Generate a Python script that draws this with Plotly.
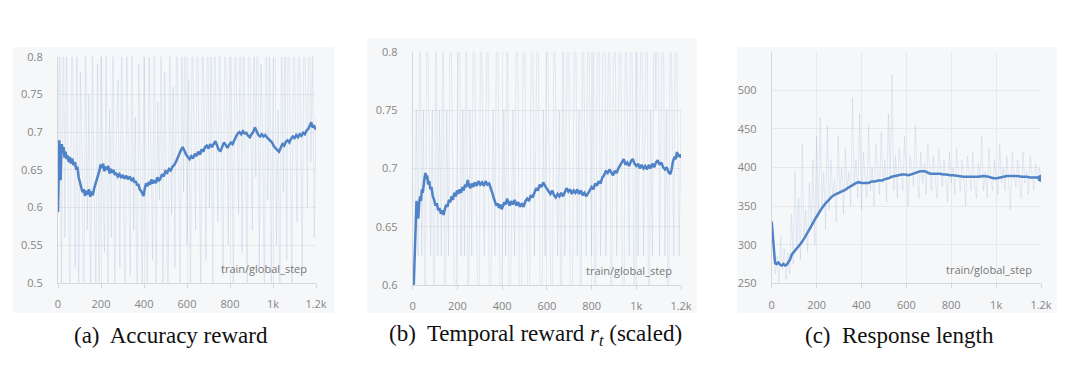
import plotly.graph_objects as go

W, H = 1080, 390

# ---------------- data ----------------
raw_steps = list(range(0, 1201, 8))

acc_raw = [0.59, 0.86, 0.47, 0.91, 0.56, 0.82, 0.63, 0.44, 0.88, 0.71,
           0.52, 0.84, 0.46, 0.78, 0.67, 0.40, 0.85, 0.57, 0.75, 0.45,
           0.83, 0.61, 0.50, 0.79, 0.43, 0.87, 0.64, 0.54, 0.81, 0.48,
           0.73, 0.56, 0.88, 0.45, 0.70, 0.77, 0.52, 0.84, 0.60, 0.44,
           0.81, 0.66, 0.51, 0.86, 0.57, 0.72, 0.42, 0.79, 0.63, 0.49,
           0.84, 0.58, 0.47, 0.80, 0.68, 0.53, 0.89, 0.46, 0.74, 0.61,
           0.85, 0.50, 0.78, 0.64, 0.43, 0.90, 0.59, 0.76, 0.52, 0.87,
           0.69, 0.48, 0.83, 0.62, 0.91, 0.55, 0.77, 0.46, 0.86, 0.71,
           0.57, 0.88, 0.65, 0.49, 0.82, 0.74, 0.53, 0.92, 0.60, 0.80,
           0.47, 0.86, 0.70, 0.58, 0.89, 0.63, 0.51, 0.84, 0.76, 0.55,
           0.93, 0.66, 0.48, 0.87, 0.72, 0.59, 0.90, 0.54, 0.81, 0.68,
           0.50, 0.91, 0.75, 0.57, 0.85, 0.64, 0.94, 0.52, 0.79, 0.70,
           0.46, 0.88, 0.61, 0.83, 0.49, 0.77, 0.90, 0.55, 0.73, 0.44,
           0.86, 0.62, 0.80, 0.53, 0.92, 0.67, 0.48, 0.87, 0.74, 0.58,
           0.91, 0.69, 0.52, 0.85, 0.77, 0.60, 0.93, 0.66, 0.81, 0.56,
           0.72]

tmp_raw = [0.5, 0.625, 0.75, 0.625, 0.875, 0.625, 0.75, 0.5, 0.875, 0.75,
           0.625, 0.75, 0.5, 0.875, 0.625, 0.75, 0.625, 0.875, 0.5, 0.75,
           0.625, 0.875, 0.75, 0.625, 0.5, 0.75, 0.875, 0.625, 0.75, 0.625,
           0.875, 0.5, 0.75, 0.625, 0.875, 0.75, 0.625, 0.5, 0.875, 0.75,
           0.625, 0.75, 0.875, 0.5, 0.625, 0.75, 0.625, 0.875, 0.75, 0.5,
           0.625, 0.75, 0.625, 0.875, 0.5, 0.625, 0.75, 0.625, 0.875, 0.75,
           0.5, 0.625, 0.875, 0.75, 0.625, 0.5, 0.75, 0.875, 0.625, 0.75,
           0.875, 0.625, 0.5, 0.75, 0.625, 0.875, 0.75, 0.625, 0.5, 0.875,
           0.75, 0.625, 0.75, 0.5, 0.875, 0.625, 0.75, 0.875, 0.625, 0.5,
           0.75, 0.875, 0.625, 0.75, 0.5, 0.875, 0.75, 0.625, 0.875, 0.75,
           0.625, 0.875, 0.5, 0.75, 0.875, 0.625, 0.75, 1.0, 0.625, 0.75,
           0.875, 0.5, 0.75, 0.875, 0.625, 0.75, 0.875, 0.625, 0.5, 0.875,
           0.75, 0.625, 0.875, 0.75, 0.5, 0.875, 0.625, 0.75, 0.875, 0.625,
           0.75, 0.875, 0.5, 0.75, 0.625, 0.875, 0.75, 1.0, 0.625, 0.75,
           0.875, 0.625, 0.75, 0.5, 0.875, 0.75, 0.625, 0.875, 0.75, 0.625,
           0.75]

len_raw = [330, 300, 262, 285, 250, 310, 268, 295, 255, 290,
           262, 340, 275, 395, 300, 360, 280, 430, 310, 345,
           290, 380, 320, 410, 300, 440, 335, 465, 350, 395,
           320, 455, 345, 410, 360, 385, 330, 440, 365, 400,
           340, 425, 370, 395, 350, 490, 375, 410, 360, 470,
           345, 420, 385, 360, 455, 370, 400, 350, 430, 390,
           365, 445, 380, 410, 355, 470, 385, 520, 370, 415,
           360, 425, 395, 370, 440, 385, 350, 415, 400, 375,
           455, 390, 360, 420, 380, 405, 365, 430, 395, 370,
           415, 385, 360, 425, 395, 375, 410, 385, 355, 420,
           380, 400, 365, 425, 390, 370, 410, 385, 350, 415,
           395, 370, 420, 380, 360, 405, 385, 440, 370, 395,
           360, 425, 385, 370, 410, 390, 365, 430, 380, 400,
           370, 415, 385, 345, 420, 390, 375, 410, 385, 360,
           420, 380, 395, 365, 415, 390, 370, 405, 385, 400,
           386]

acc_sm_x = [0, 3, 6, 9, 12, 15, 18, 22, 26, 30, 35, 40, 45, 50, 55, 60, 66, 72, 79, 85,
            90, 96, 102, 108, 114, 120, 126, 132, 138, 144, 150, 156, 162, 168, 174,
            180, 186, 192, 198, 204, 210, 216, 222, 228, 234, 240, 246, 252, 258, 264,
            270, 278, 286, 294, 302, 310, 318, 326, 334, 342, 350, 356, 362, 368, 374,
            380, 386, 392, 398, 404, 410, 416, 422, 428, 434, 440, 448, 455, 462, 469,
            476, 484, 492, 500, 508, 516, 524, 532, 540, 548, 556, 564, 572, 580, 588,
            596, 604, 612, 620, 628, 636, 644, 652, 660, 668, 676, 684, 692, 700, 708,
            716, 724, 732, 740, 748, 756, 764, 772, 780, 788, 796, 804, 812, 820, 828,
            836, 844, 852, 860, 868, 876, 884, 892, 900, 908, 916, 924, 932, 940, 948,
            956, 964, 972, 980, 988, 996, 1004, 1012, 1020, 1028, 1036, 1044, 1052,
            1060, 1068, 1076, 1084, 1092, 1100, 1108, 1116, 1124, 1132, 1140, 1148,
            1156, 1164, 1172, 1178, 1184, 1190, 1196, 1200]
acc_sm_y = [0.594, 0.660, 0.689, 0.650, 0.636, 0.668, 0.684, 0.672, 0.680, 0.666,
            0.674, 0.664, 0.669, 0.660, 0.667, 0.658, 0.665, 0.656, 0.660, 0.650,
            0.654, 0.640, 0.634, 0.626, 0.620, 0.624, 0.615, 0.622, 0.617, 0.624,
            0.614, 0.621, 0.616, 0.625, 0.630, 0.636, 0.641, 0.648, 0.657, 0.652,
            0.658, 0.648, 0.654, 0.650, 0.655, 0.645, 0.651, 0.646, 0.650, 0.643,
            0.646, 0.641, 0.644, 0.639, 0.643, 0.638, 0.642, 0.637, 0.641, 0.636,
            0.638, 0.633, 0.635, 0.629, 0.631, 0.624, 0.622, 0.617, 0.615, 0.626,
            0.632, 0.628, 0.634, 0.630, 0.637, 0.632, 0.636, 0.632, 0.640, 0.635,
            0.638, 0.644, 0.641, 0.648, 0.646, 0.651, 0.649, 0.654, 0.656, 0.660,
            0.666, 0.672, 0.676, 0.680, 0.674, 0.670, 0.667, 0.664, 0.668, 0.665,
            0.671, 0.668, 0.674, 0.670, 0.677, 0.674, 0.680, 0.682, 0.678, 0.684,
            0.680, 0.685, 0.688, 0.682, 0.676, 0.675, 0.681, 0.686, 0.683, 0.679,
            0.683, 0.686, 0.684, 0.690, 0.694, 0.698, 0.700, 0.697, 0.701, 0.698,
            0.699, 0.695, 0.693, 0.697, 0.700, 0.706, 0.700, 0.696, 0.694, 0.697,
            0.694, 0.696, 0.693, 0.691, 0.689, 0.686, 0.681, 0.678, 0.676, 0.674,
            0.679, 0.684, 0.682, 0.687, 0.689, 0.686, 0.691, 0.694, 0.692, 0.696,
            0.693, 0.697, 0.695, 0.699, 0.697, 0.702, 0.704, 0.709, 0.713, 0.706,
            0.709, 0.705, 0.706]

tmp_sm_x = [0, 5, 9, 13, 17, 21, 25, 29, 33, 37, 41, 45, 49, 53, 57, 61, 65, 69, 74, 79,
            84, 90, 96, 102, 108, 114, 120, 126, 132, 138, 144, 150, 156, 162, 168, 174,
            180, 186, 192, 198, 204, 210, 216, 222, 228, 234, 240, 246, 252, 258, 264,
            270, 278, 286, 294, 302, 310, 318, 326, 334, 342, 350, 356, 362, 368, 374,
            380, 386, 392, 398, 404, 410, 416, 422, 428, 434, 440, 448, 456, 464, 472,
            480, 488, 496, 504, 512, 520, 528, 536, 544, 552, 560, 568, 576, 584, 592,
            600, 608, 616, 624, 632, 640, 648, 656, 664, 672, 680, 688, 696, 704, 712,
            720, 728, 736, 744, 752, 760, 768, 776, 784, 792, 800, 808, 816, 824, 832,
            840, 848, 856, 864, 872, 880, 888, 896, 904, 912, 920, 928, 936, 944, 952,
            960, 968, 976, 984, 992, 1000, 1008, 1016, 1024, 1032, 1040, 1048, 1056,
            1064, 1072, 1080, 1088, 1096, 1104, 1112, 1120, 1128, 1136, 1144, 1152,
            1158, 1164, 1170, 1176, 1182, 1188, 1194, 1200]
tmp_sm_y = [0.600, 0.601, 0.625, 0.650, 0.672, 0.665, 0.657, 0.670, 0.676, 0.672,
            0.682, 0.679, 0.688, 0.692, 0.696, 0.691, 0.694, 0.686, 0.689, 0.682,
            0.684, 0.676, 0.673, 0.668, 0.670, 0.664, 0.666, 0.661, 0.664, 0.660,
            0.665, 0.669, 0.667, 0.673, 0.671, 0.676, 0.673, 0.679, 0.676, 0.681,
            0.678, 0.682, 0.679, 0.684, 0.681, 0.686, 0.684, 0.690, 0.685, 0.683,
            0.687, 0.684, 0.688, 0.685, 0.689, 0.686, 0.688, 0.685, 0.689, 0.686,
            0.687, 0.683, 0.679, 0.675, 0.671, 0.668, 0.670, 0.666, 0.669, 0.665,
            0.668, 0.671, 0.669, 0.674, 0.671, 0.668, 0.672, 0.669, 0.673, 0.668,
            0.671, 0.667, 0.670, 0.667, 0.672, 0.674, 0.672, 0.677, 0.675, 0.680,
            0.683, 0.681, 0.686, 0.684, 0.688, 0.685, 0.683, 0.680, 0.678, 0.681,
            0.677, 0.675, 0.678, 0.676, 0.679, 0.676, 0.680, 0.683, 0.680, 0.682,
            0.678, 0.681, 0.679, 0.682, 0.678, 0.681, 0.677, 0.679, 0.676, 0.678,
            0.681, 0.684, 0.682, 0.687, 0.685, 0.689, 0.687, 0.692, 0.694, 0.698,
            0.696, 0.699, 0.697, 0.694, 0.698, 0.696, 0.700, 0.703, 0.706, 0.708,
            0.703, 0.705, 0.702, 0.706, 0.708, 0.704, 0.702, 0.704, 0.700, 0.703,
            0.700, 0.702, 0.699, 0.703, 0.700, 0.704, 0.701, 0.705, 0.707, 0.703,
            0.705, 0.701, 0.699, 0.701, 0.697, 0.695, 0.699, 0.706, 0.709, 0.708,
            0.714, 0.710, 0.712, 0.709]

len_sm_x = [0, 3, 7, 11, 15, 22, 30, 38, 45, 52, 60, 67, 74, 82, 89, 104, 119, 134,
            149, 164, 178, 193, 208, 223, 238, 252, 267, 282, 297, 312, 327, 342,
            357, 371, 386, 401, 416, 431, 446, 460, 475, 490, 505, 520, 535, 550,
            565, 580, 595, 610, 632, 646, 661, 683, 706, 728, 750, 765, 780, 795,
            810, 832, 854, 877, 899, 921, 944, 966, 988, 1003, 1018, 1033, 1048,
            1070, 1093, 1115, 1137, 1152, 1167, 1185, 1200]
len_sm_y = [330, 318, 297, 285, 276, 275, 277, 274, 273, 275, 273, 274, 277, 281,
            287, 292, 297, 303, 310, 317, 325, 333, 341, 347, 353, 358, 362, 365,
            367, 368, 371, 374, 377, 379, 381, 380, 380, 380, 382, 382, 383, 383,
            385, 386, 388, 389, 390, 391, 391, 390, 392, 393, 395, 395, 392, 392,
            392, 391, 391, 390, 390, 389, 388, 388, 388, 388, 389, 388, 386, 386,
            387, 388, 389, 389, 389, 388, 388, 387, 387, 387, 386]

x_ticks = [0, 200, 400, 600, 800, 1000, 1200]
x_tick_labels = ["0", "200", "400", "600", "800", "1k", "1.2k"]
acc_ticks = [0.5, 0.55, 0.6, 0.65, 0.7, 0.75, 0.8]
acc_tick_labels = ["0.5", "0.55", "0.6", "0.65", "0.7", "0.75", "0.8"]
tmp_ticks = [0.6, 0.65, 0.7, 0.75, 0.8]
tmp_tick_labels = ["0.6", "0.65", "0.7", "0.75", "0.8"]
len_ticks = [250, 300, 350, 400, 450, 500]
len_tick_labels = ["250", "300", "350", "400", "450", "500"]

captions = ["(a)  Accuracy reward",
            "(b)  Temporal reward <i>r</i><sub><i>t</i></sub> (scaled)",
            "(c)  Response length"]
x_label = "train/global_step"

# ---------------- styling ----------------
LINE = "#4f82c6"
RAW = "rgba(79,130,198,0.13)"
GRID = "#e8e9eb"
AX = "#d6d7d9"
TICKF = dict(family="Open Sans, Inter, sans-serif", size=11, color="#858585")

# panel plot-area rectangles in pixels (left, right, top, bottom)
plots = [(58, 316, 56.7, 282.7), (412.7, 681, 51.7, 285), (771.7, 1041, 51.7, 283.3)]
boxes = [(13, 334, 47, 313), (367, 697, 38, 313), (737, 1057, 47, 313)]
yranges = [[0.5, 0.8], [0.6, 0.8], [250, 550]]
yticks = [(acc_ticks, acc_tick_labels), (tmp_ticks, tmp_tick_labels), (len_ticks, len_tick_labels)]
raws = [acc_raw, tmp_raw, len_raw]
sms = [(acc_sm_x, acc_sm_y), (tmp_sm_x, tmp_sm_y), (len_sm_x, len_sm_y)]
cap_x = [171, 535, 899]

fig = go.Figure()
layout = dict(width=W, height=H, margin=dict(l=0, r=0, t=0, b=0, autoexpand=False),
              paper_bgcolor="#ffffff", plot_bgcolor="rgba(0,0,0,0)",
              showlegend=False, shapes=[], annotations=[])

for i in range(3):
    sfx = "" if i == 0 else str(i + 1)
    xa, ya = "x" + sfx, "y" + sfx
    l, r, t, b = plots[i]
    layout["xaxis" + sfx] = dict(
        domain=[l / W, r / W], range=[0, 1200], anchor=ya, automargin=False,
        tickvals=x_ticks, ticktext=x_tick_labels, tickfont=TICKF,
        showgrid=True, gridcolor=GRID, gridwidth=1,
        showline=True, linecolor=AX, linewidth=1,
        ticks="outside", ticklen=4, tickcolor=AX, ticklabelstandoff=7,
        zeroline=False, fixedrange=True)
    layout["yaxis" + sfx] = dict(
        domain=[1 - b / H, 1 - t / H], range=yranges[i], anchor=xa, automargin=False,
        tickvals=yticks[i][0], ticktext=yticks[i][1], tickfont=TICKF,
        showgrid=True, gridcolor=GRID, gridwidth=1,
        showline=True, linecolor=AX, linewidth=1,
        ticks="", ticklabelstandoff=12, zeroline=False, fixedrange=True)
    bl, br, bt, bb = boxes[i]
    layout["shapes"].append(dict(type="rect", xref="paper", yref="paper",
                                 x0=bl / W, x1=br / W, y0=1 - bb / H, y1=1 - bt / H,
                                 fillcolor="#f6f7f8", line=dict(width=0), layer="below"))
    fig.add_trace(go.Scatter(x=raw_steps, y=raws[i], mode="lines",
                             line=dict(color=RAW, width=1), xaxis=xa, yaxis=ya,
                             hoverinfo="skip"))
    fig.add_trace(go.Scatter(x=sms[i][0], y=sms[i][1], mode="lines",
                             line=dict(color=LINE, width=2.5), xaxis=xa, yaxis=ya))
    layout["annotations"].append(dict(
        text=x_label, xref=xa + " domain", yref=ya + " domain",
        x=(r - 7 - l) / (r - l), y=0.02, xanchor="right", yanchor="bottom",
        showarrow=False, font=dict(family="Open Sans, Inter, sans-serif", size=11, color="#777777")))
    layout["annotations"].append(dict(
        text=captions[i], xref="paper", yref="paper", x=cap_x[i] / W, y=1 - 335 / H,
        xanchor="center", yanchor="middle", showarrow=False,
        font=dict(family="Liberation Serif, Times New Roman, serif", size=23, color="#111111")))

# end marker on response length
fig.add_trace(go.Scatter(x=[len_sm_x[-1]], y=[len_sm_y[-1]], mode="markers",
                         marker=dict(color=LINE, size=7), xaxis="x3", yaxis="y3"))

fig.update_layout(**layout)
fig.write_html("out.html", config={"displayModeBar": False},
               post_script="document.body.style.margin='0';document.body.style.overflow='hidden';")
